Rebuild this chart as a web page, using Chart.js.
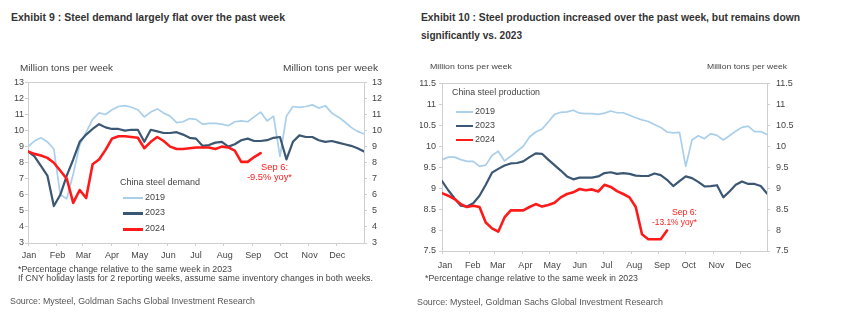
<!DOCTYPE html>
<html><head><meta charset="utf-8">
<script src="https://cdn.jsdelivr.net/npm/chart.js@4.4.1/dist/chart.umd.min.js"></script>
<style>
body{margin:0;width:848px;height:334px;background:#fff;position:relative;overflow:hidden;font-family:"Liberation Sans",Arial,sans-serif;}
.t{position:absolute;white-space:nowrap;transform-origin:0 0;line-height:1;}
canvas{position:absolute;}
.lg{position:absolute;}
</style></head><body>
<canvas id="c1" width="420" height="195" style="left:0;top:72px;width:420px;height:195px"></canvas>
<canvas id="c2" width="428" height="205" style="left:420px;top:72px;width:428px;height:205px"></canvas>
<div id="texts"></div>
<script>
// ---------- data ----------
const MONTHS = ['Jan','Feb','Mar','Apr','May','Jun','Jul','Aug','Sep','Oct','Nov','Dec'];
const MONTH_START_WEEK = [0, 4.43, 8.43, 12.86, 17.14, 21.57, 25.86, 30.29, 34.71, 39, 43.43, 47.71];
const WEEKS = [0,1,2,3,4,5,6,7,8,9,10,11,12,13,14,15,16,17,18,19,20,21,22,23,24,25,26,27,28,29,30,31,32,33,34,35,36,37,38,39,40,41,42,43,44,45,46,47,48,49,50,51,52];
const SERIES = ['2019','2023','2024'];

// Exhibit 9: China steel demand (million tons per week)
const demand2019 = [9.0,9.35,9.55,9.3,8.85,6.0,5.75,7.3,9.1,9.9,10.7,11.1,11.0,11.3,11.5,11.55,11.45,11.3,10.85,11.15,11.35,11.1,10.9,10.5,10.55,10.75,10.7,10.4,10.45,10.45,10.4,10.3,10.55,10.6,10.55,10.85,11.15,10.6,10.9,8.4,10.9,11.5,11.45,11.5,11.6,11.4,11.55,11.1,10.85,10.55,10.2,9.95,9.8];
const demand2023 = [8.7,8.4,7.8,7.2,5.3,6.0,7.2,8.2,9.3,9.75,10.1,10.4,10.2,10.1,10.1,10.0,10.05,10.05,9.3,10.05,9.95,9.85,9.85,9.9,9.75,9.55,9.5,9.05,9.1,9.25,9.3,9.0,9.15,9.4,9.5,9.35,9.35,9.4,9.55,9.6,8.2,9.3,9.7,9.6,9.6,9.4,9.3,9.35,9.25,9.15,9.05,8.9,8.7];
const demand2024 = [8.7,8.55,8.45,8.3,8.0,7.5,7.0,5.5,6.3,5.8,7.9,8.2,8.8,9.5,9.65,9.65,9.6,9.55,8.9,9.3,9.6,9.35,9.0,8.85,8.85,8.9,8.95,8.95,8.95,8.85,9.0,8.95,8.75,8.05,8.05,8.35,8.6];
const demandTicks = {min:3, max:13, step:1};

// Exhibit 10: China steel production (million tons per week)
const prod2019 = [9.68,9.74,9.74,9.68,9.64,9.64,9.52,9.55,9.78,9.88,9.65,9.76,9.88,10.0,10.22,10.34,10.41,10.58,10.76,10.81,10.82,10.86,10.79,10.78,10.78,10.76,10.79,10.84,10.8,10.8,10.74,10.68,10.63,10.59,10.52,10.45,10.34,10.32,10.33,9.52,10.15,10.25,10.18,10.3,10.26,10.15,10.25,10.36,10.45,10.48,10.35,10.35,10.28];
const prod2023 = [9.17,8.95,8.76,8.58,8.56,8.64,8.82,9.08,9.37,9.46,9.54,9.59,9.6,9.64,9.74,9.83,9.82,9.68,9.55,9.42,9.28,9.21,9.25,9.25,9.25,9.28,9.36,9.38,9.34,9.36,9.34,9.3,9.29,9.29,9.35,9.31,9.2,9.05,9.17,9.28,9.24,9.15,9.04,9.05,9.07,8.78,8.92,9.08,9.16,9.1,9.1,9.05,8.87];
const prod2024 = [8.88,8.82,8.74,8.62,8.55,8.58,8.55,8.18,8.04,7.96,8.3,8.47,8.47,8.47,8.55,8.62,8.56,8.6,8.65,8.78,8.86,8.9,8.98,8.95,8.97,8.92,9.08,9.03,8.93,8.86,8.78,8.55,7.9,7.78,7.78,7.78,7.99];
const prodTicks = {min:7.5, max:11.5, step:0.5};

// ---------- style ----------
const C19 = '#a9cfea', C23 = '#3b5773', C24 = '#ff1a1a';
const GRID = '#cfcfcf';
const TXT = '#444';
Chart.defaults.font.family = '"Liberation Sans", Arial, sans-serif';
Chart.defaults.devicePixelRatio = 1;

const topLine = {id:'topLine', afterDraw(c){const a=c.chartArea,ctx=c.ctx;ctx.save();ctx.strokeStyle=GRID;ctx.lineWidth=1;ctx.beginPath();ctx.moveTo(a.left,Math.round(a.top)+0.5);ctx.lineTo(a.right,Math.round(a.top)+0.5);ctx.stroke();ctx.restore();}};

function makeChart(id, d19, d23, d24, tk, geo){
  const yAxis = (pos, w, pad) => ({
    type:'linear', position:pos, min:tk.min, max:tk.max,
    afterFit(s){ s.width = w; },
    grid:{drawOnChartArea:false, drawTicks:true, tickLength:3, color:GRID},
    border:{color:GRID},
    ticks:{stepSize:tk.step, color:TXT, font:{size:geo.fs}, padding:pad, callback:(v)=>String(+v.toFixed(2))}
  });
  return new Chart(document.getElementById(id), {
    type:'line',
    data:{labels:WEEKS, datasets:[
      {label:SERIES[2], data:d24, borderColor:C24, borderWidth:2.6, order:1, yAxisID:'y'},
      {label:SERIES[1], data:d23, borderColor:C23, borderWidth:2.2, order:2, yAxisID:'y'},
      {label:SERIES[0], data:d19, borderColor:C19, borderWidth:1.7, order:3, yAxisID:'y'}
    ]},
    options:{
      responsive:false, animation:false, devicePixelRatio:1,
      layout:{padding:{top:geo.top, left:0, right:0, bottom:0}},
      elements:{point:{radius:0}, line:{tension:0, borderCapStyle:'round', borderJoinStyle:'round'}},
      plugins:{legend:{display:false}, tooltip:{enabled:false}},
      scales:{
        x:{type:'linear', min:0, max:52, position:'bottom',
          afterFit(s){ s.height = geo.xh; },
          afterBuildTicks(s){ s.ticks = MONTH_START_WEEK.map(v=>({value:v})); },
          grid:{drawOnChartArea:false, drawTicks:true, tickLength:3, color:GRID},
          border:{color:GRID},
          ticks:{autoSkip:false, maxRotation:0, color:TXT, font:{size:geo.fs}, padding:geo.xpad, labelOffset:geo.xoff,
            callback:(v,i)=>MONTHS[i]}
        },
        y: yAxis('left', geo.lw, geo.lpad),
        y2: yAxis('right', geo.rw, geo.rpad)
      }
    },
    plugins:[topLine]
  });
}
makeChart('c1', demand2019, demand2023, demand2024, demandTicks, {top:8, xh:24, lw:28, rw:56, lpad:1, rpad:5, xpad:4, xoff:1, fs:9});
makeChart('c2', prod2019, prod2023, prod2024, prodTicks, {top:9, xh:26, lw:22, rw:81, lpad:3, rpad:6, xpad:6, xoff:3, fs:9});

// ---------- texts ----------
const T = [
  {s:'Exhibit 9 : Steel demand largely flat over the past week', x:11, cy:18, w:274, fs:10.5, b:1, c:'#333'},
  {s:'Exhibit 10 : Steel production increased over the past week, but remains down', x:421, cy:18, w:379, fs:10.5, b:1, c:'#333'},
  {s:'significantly vs. 2023', x:421, cy:36, w:101, fs:10.5, b:1, c:'#333'},
  {s:'Million tons per week', x:20, cy:69, w:93, fs:9, c:TXT},
  {s:'Million tons per week', x:283, cy:69, w:95, fs:9, c:TXT},
  {s:'Million tons per week', x:430, cy:67, w:82, fs:8, c:TXT},
  {s:'Million tons per week', x:707, cy:67, w:80, fs:8, c:TXT},
  {s:'China steel demand', x:120, cy:183, w:80, fs:9, c:TXT},
  {s:SERIES[0], x:145, cy:197.7, w:20, fs:9, c:TXT},
  {s:SERIES[1], x:145, cy:213.3, w:20, fs:9, c:TXT},
  {s:SERIES[2], x:145, cy:229.3, w:20, fs:9, c:TXT},
  {s:'China steel production', x:452, cy:93.3, w:88, fs:9, c:TXT},
  {s:SERIES[0], x:475, cy:111.7, w:20, fs:9, c:TXT},
  {s:SERIES[1], x:475, cy:126, w:20, fs:9, c:TXT},
  {s:SERIES[2], x:475, cy:140, w:20, fs:9, c:TXT},
  {s:'Sep 6:', r:288, cy:168, w:27, fs:9, c:C24},
  {s:'-9.5% yoy*', r:292, cy:178.3, w:45, fs:9, c:C24},
  {s:'Sep 6:', r:697, cy:212.7, w:25, fs:9, c:C24},
  {s:'-13.1% yoy*', r:697, cy:223.3, w:45, fs:9, c:C24},
  {s:'*Percentage change relative to the same week in 2023', x:18, cy:269.5, w:214, fs:8.5, c:TXT},
  {s:'If CNY holiday lasts for 2 reporting weeks, assume same inventory changes in both weeks.', x:18, cy:279, w:355, fs:8.5, c:TXT},
  {s:'Source: Mysteel, Goldman Sachs Global Investment Research', x:10, cy:302, w:245, fs:9, c:'#555'},
  {s:'*Percentage change relative to the same week in 2023', x:425, cy:279, w:213, fs:8.5, c:TXT},
  {s:'Source: Mysteel, Goldman Sachs Global Investment Research', x:417, cy:302.7, w:246, fs:9, c:'#555'}
];
const box = document.getElementById('texts');
T.forEach(t=>{
  const e = document.createElement('div');
  e.className='t'; e.textContent=t.s;
  e.style.fontSize=t.fs+'px'; e.style.color=t.c; if(t.b) e.style.fontWeight='bold';
  e.style.top=(t.cy - t.fs*0.55)+'px';
  box.appendChild(e);
  const nat = e.getBoundingClientRect().width;
  const k = t.w/nat;
  e.style.transform='scaleX('+k+')';
  e.style.left = (t.r!==undefined ? t.r - t.w : t.x)+'px';
});
// legend line samples
[[123,143,197.7,C19,2],[123,143,213.3,C23,2.5],[123,143,229.3,C24,2.5],
 [456,473,111.7,C19,2],[456,473,126,C23,2.5],[456,473,140,C24,2.5]].forEach(a=>{
  const d=document.createElement('div'); d.className='lg';
  d.style.left=a[0]+'px'; d.style.width=(a[1]-a[0])+'px'; d.style.top=(a[2]-a[4]/2)+'px';
  d.style.height=a[4]+'px'; d.style.background=a[3]; box.appendChild(d);
});
</script>
</body></html>
